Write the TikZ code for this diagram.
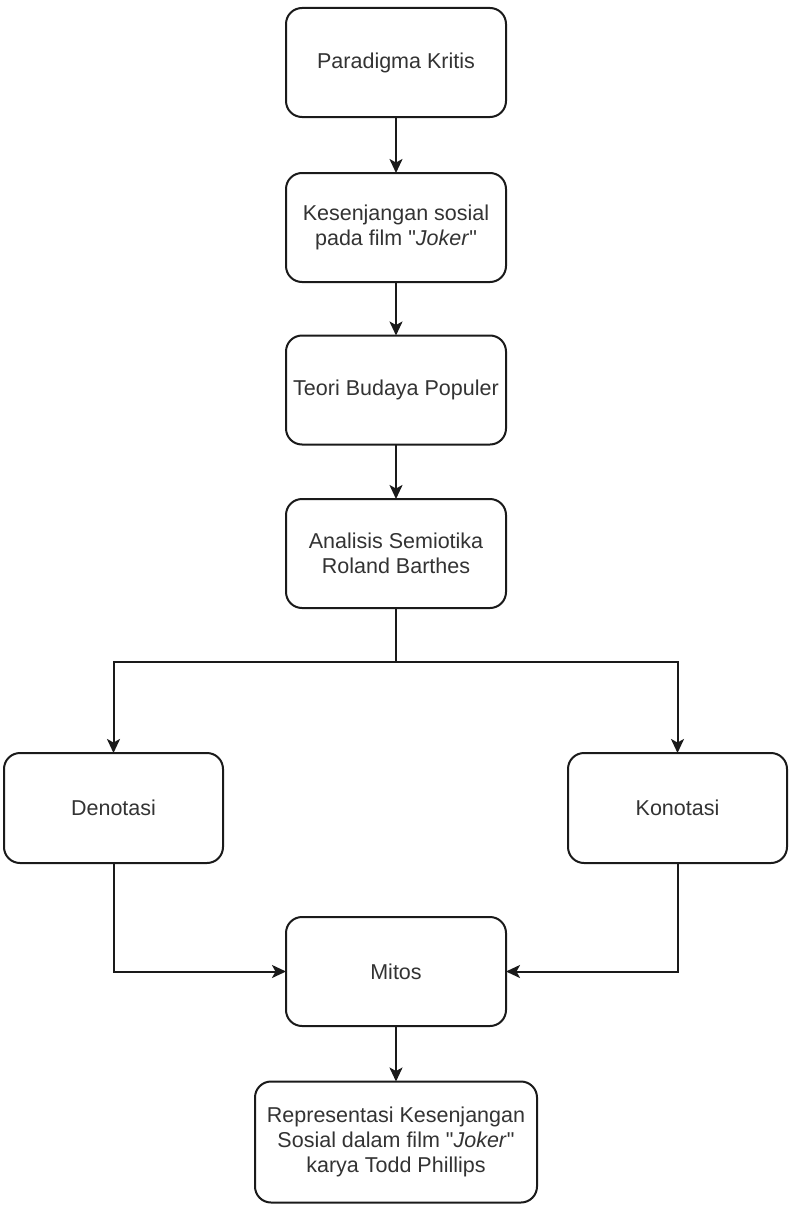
\documentclass[tikz,border=0pt]{standalone}
\usepackage{fontspec}
\setmainfont{Liberation Sans}
\usetikzlibrary{arrows.meta}
\definecolor{txt}{HTML}{333333}
\definecolor{ln}{HTML}{1a1a1a}
\tikzset{
  box/.style={draw=ln, line width=2pt, rounded corners=16pt, fill=white,
    inner sep=0pt, outer sep=0pt, align=center, text=txt,
    font=\fontsize{21.5}{25}\selectfont},
  arr/.style={draw=ln, line width=2pt, -{Stealth[length=14pt,width=13pt,inset=3.5pt]}},
  ln/.style={draw=ln, line width=2pt}
}
\begin{document}
\begin{tikzpicture}[x=1pt,y=-1pt]
\useasboundingbox (0,0) rectangle (793,1207);
\node[box, minimum width=220pt, minimum height=109pt] (p1) at (396,62.5) {Paradigma Kritis};
\node[box, minimum width=220pt, minimum height=109pt] (p2) at (396,227.5) {Kesenjangan sosial\\pada film \textquotedbl\textit{Joker}\textquotedbl};
\node[box, minimum width=220pt, minimum height=109pt] (p3) at (396,390) {Teori Budaya Populer};
\node[box, minimum width=220pt, minimum height=109pt] (p4) at (396,553.5) {Analisis Semiotika\\Roland Barthes};
\node[box, minimum width=219pt, minimum height=110pt] (den) at (113.5,808) {Denotasi};
\node[box, minimum width=219pt, minimum height=110pt] (kon) at (677.5,808) {Konotasi};
\node[box, minimum width=220pt, minimum height=109pt] (mit) at (396,971.5) {Mitos};
\node[box, minimum width=282pt, minimum height=121pt] (rep) at (396,1142) {Representasi Kesenjangan\\Sosial dalam film \textquotedbl\textit{Joker}\textquotedbl\\karya Todd Phillips};
\coordinate (br) at (396,662);
\draw[arr] (p1) -- (p2);
\draw[arr] (p2) -- (p3);
\draw[arr] (p3) -- (p4);
\draw[ln] (p4.south) -- (br);
\draw[arr] (br) -| (den.north);
\draw[arr] (br) -| (kon.north);
\draw[arr] (den.south) |- (mit.west);
\draw[arr] (kon.south) |- (mit.east);
\draw[arr] (mit) -- (rep);
\end{tikzpicture}
\end{document}
